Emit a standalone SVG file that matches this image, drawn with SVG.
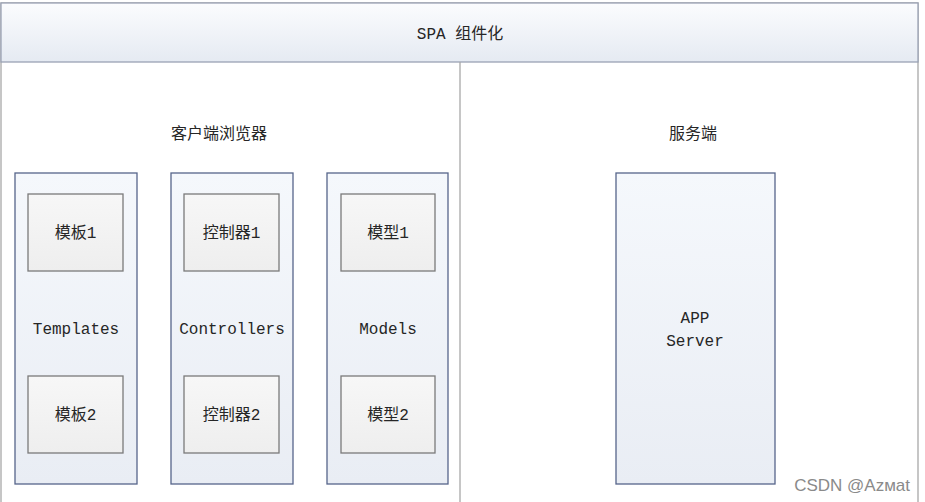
<svg xmlns="http://www.w3.org/2000/svg" width="925" height="502" viewBox="0 0 925 502">
<style>
.lat{font-family:"Liberation Mono","Noto Sans CJK SC",monospace;font-size:16px;fill:#262626;text-anchor:middle}
.cjk{font-family:"Liberation Mono","Noto Sans CJK SC",sans-serif;font-size:16px;fill:#262626;text-anchor:middle}
.col{fill:url(#colg);stroke:#56658a;stroke-width:1.3}
.box{fill:url(#boxg);stroke:#7a7a7a;stroke-width:1.3}
.frame{fill:none;stroke:#a8a8a8;stroke-width:1.3}
</style>
<defs>
<linearGradient id="hdr" x1="0" y1="0" x2="0" y2="1">
<stop offset="0" stop-color="#fbfcfe"/><stop offset="1" stop-color="#e5eaf2"/>
</linearGradient>
<linearGradient id="colg" x1="0" y1="0" x2="0" y2="1">
<stop offset="0" stop-color="#f5f8fc"/><stop offset="1" stop-color="#e9edf4"/>
</linearGradient>
<linearGradient id="boxg" x1="0" y1="0" x2="0" y2="1">
<stop offset="0" stop-color="#f7f7f7"/><stop offset="1" stop-color="#eeeeee"/>
</linearGradient>
</defs>
<rect width="925" height="502" fill="#ffffff"/>
<g id="frame">
<rect x="1" y="3" width="917" height="505" class="frame"/>
<rect x="1" y="3" width="917" height="59" fill="url(#hdr)" stroke="#9aa2b4" stroke-width="1.3"/>
<line x1="460" y1="62" x2="460" y2="502" stroke="#a8a8a8" stroke-width="1.3"/>
<text x="460" y="39" class="cjk">SPA 组件化</text>
</g>
<g id="client-label"><text x="219" y="139" class="cjk">客户端浏览器</text></g>
<g id="server-label"><text x="693" y="139" class="cjk">服务端</text></g>
<g id="templates">
<rect x="15" y="173" width="122" height="311" class="col"/>
<text x="76" y="334" class="lat">Templates</text>
</g>
<g id="tpl1"><rect x="28" y="194" width="95" height="77" class="box"/><text x="75.5" y="238" class="cjk">模板1</text></g>
<g id="tpl2"><rect x="28" y="376" width="95" height="77" class="box"/><text x="75.5" y="420" class="cjk">模板2</text></g>
<g id="controllers">
<rect x="171" y="173" width="122" height="311" class="col"/>
<text x="232" y="334" class="lat">Controllers</text>
</g>
<g id="ctl1"><rect x="184" y="194" width="95" height="77" class="box"/><text x="231.5" y="238" class="cjk">控制器1</text></g>
<g id="ctl2"><rect x="184" y="376" width="95" height="77" class="box"/><text x="231.5" y="420" class="cjk">控制器2</text></g>
<g id="models">
<rect x="327" y="173" width="121" height="311" class="col"/>
<text x="388" y="334" class="lat">Models</text>
</g>
<g id="mdl1"><rect x="341" y="194" width="94" height="77" class="box"/><text x="388" y="238" class="cjk">模型1</text></g>
<g id="mdl2"><rect x="341" y="376" width="94" height="77" class="box"/><text x="388" y="420" class="cjk">模型2</text></g>
<g id="app-server">
<rect x="616" y="173" width="159" height="311" class="col"/>
<text x="695" y="323" class="lat">APP</text>
<text x="695" y="346" class="lat">Server</text>
</g>
<g id="connectors"></g>
<text x="910" y="491" font-family="Liberation Sans,sans-serif" font-size="17" fill="#8a8a8a" text-anchor="end">CSDN @Azмat</text>
</svg>
